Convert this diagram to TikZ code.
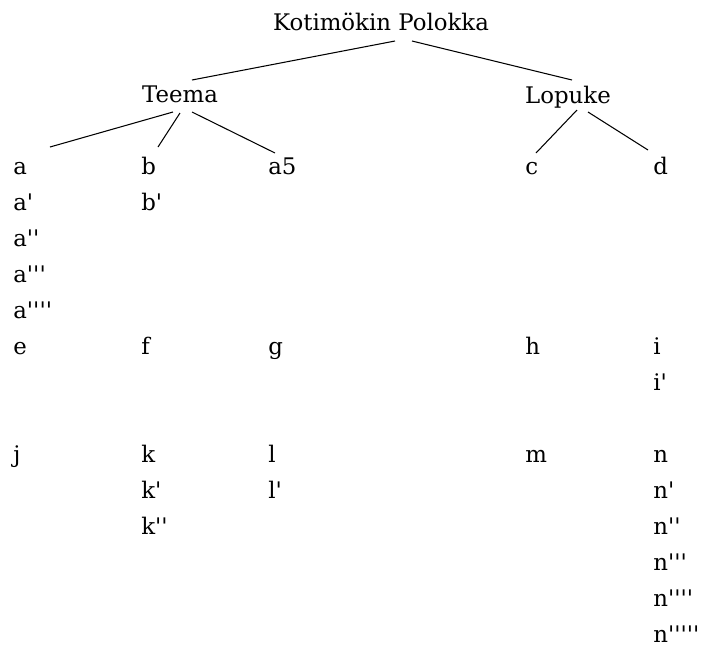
\documentclass[tikz,border=0pt]{standalone}
\usepackage{fontspec}
\setmainfont{DejaVu Serif}[Ligatures=TeXOff]
\usetikzlibrary{calc}

\begin{document}
\begin{tikzpicture}[
    x=0.02cm, y=-0.02cm,
    lbl/.style={anchor=base, inner sep=0pt, font=\fontsize{13}{15}\selectfont},
    leaf/.style={anchor=base west, inner sep=0pt, font=\fontsize{13}{15}\selectfont},
    ln/.style={line width=0.6pt},
]
\useasboundingbox (0,0) rectangle (701,650);
\node[lbl] (root) at (381,30) {Kotimökin Polokka};
\node[lbl] (teema) at (180,102) {Teema};
\node[lbl] (lopuke) at (568,103) {Lopuke};
% first column
\node[leaf] (a) at (13,174) {a};
\node[leaf] (a1) at (13,210) {a'};
\node[leaf] (a2) at (13,246) {a''};
\node[leaf] (a3) at (13,282) {a'''};
\node[leaf] (a4) at (13,318) {a''''};
\node[leaf] (e) at (13,354) {e};
\node[leaf] (j) at (13,462) {j};
% second column
\node[leaf] (b) at (141,174) {b};
\node[leaf] (b1) at (141,210) {b'};
\node[leaf] (f) at (141,354) {f};
\node[leaf] (k) at (141,462) {k};
\node[leaf] (k1) at (141,498) {k'};
\node[leaf] (k2) at (141,534) {k''};
% third column
\node[leaf] (a5) at (268,174) {a5};
\node[leaf] (g) at (268,354) {g};
\node[leaf] (l) at (268,462) {l};
\node[leaf] (l1) at (268,498) {l'};
% fourth column
\node[leaf] (c) at (525,174) {c};
\node[leaf] (h) at (525,354) {h};
\node[leaf] (m) at (525,462) {m};
% last column
\node[leaf] (d) at (653,174) {d};
\node[leaf] (i) at (653,354) {i};
\node[leaf] (i1) at (653,390) {i'};
\node[leaf] (n) at (653,462) {n};
\node[leaf] (n1) at (653,498) {n'};
\node[leaf] (n2) at (653,534) {n''};
\node[leaf] (n3) at (653,570) {n'''};
\node[leaf] (n4) at (653,606) {n''''};
\node[leaf] (n5) at (653,642) {n'''''};
% tree lines
\draw[ln] (root.base) ++(14,11) -- ($(teema.base)+(12,-22)$);
\draw[ln] (root.base) ++(31,11) -- ($(lopuke.base)+(4,-23)$);
\draw[ln] (teema.base) ++(-7,10) -- ($(a.base west)+(37,-27)$);
\draw[ln] (teema.base) ++(0,11) -- ($(b.base west)+(17,-27)$);
\draw[ln] (teema.base) ++(12,10) -- ($(a5.base west)+(7,-21)$);
\draw[ln] (lopuke.base) ++(9,7) -- ($(c.base west)+(11,-21)$);
\draw[ln] (lopuke.base) ++(20,9) -- ($(d.base west)+(-5,-24)$);
\end{tikzpicture}
\end{document}
